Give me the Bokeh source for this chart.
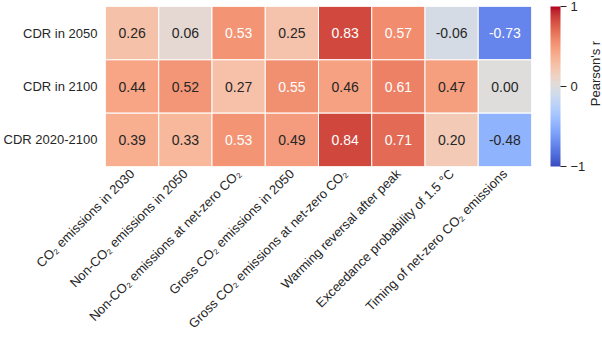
import numpy as np
from bokeh.plotting import figure
from bokeh.layouts import row
from bokeh.models import (ColumnDataSource, FactorRange, LinearColorMapper, ColorBar,
                          FixedTicker, Range1d)
from bokeh.core.properties import value
from bokeh.embed import file_html
from bokeh.resources import INLINE

rows = ["CDR in 2050", "CDR in 2100", "CDR 2020-2100"]
cols = ["CO₂ emissions in 2030", "Non-CO₂ emissions in 2050",
        "Non-CO₂ emissions at net-zero CO₂", "Gross CO₂ emissions in 2050",
        "Gross CO₂ emissions at net-zero CO₂", "Warming reversal after peak",
        "Exceedance probability of 1.5 °C", "Timing of net-zero CO₂ emissions"]
r_2050 = [0.26, 0.06, 0.53, 0.25, 0.83, 0.57, -0.06, -0.73]
r_2100 = [0.44, 0.52, 0.27, 0.55, 0.46, 0.61, 0.47, 0.00]
r_2020_2100 = [0.39, 0.33, 0.53, 0.49, 0.84, 0.71, 0.20, -0.48]
cbar_ticks = [-1, 0, 1]
cbar_labels = ["−1", "0", "1"]
cbar_title = "Pearson's r"

# coolwarm colormap (Moreland) control points
_cw = [(59,76,192),(68,90,204),(77,104,215),(87,117,225),(98,130,234),(108,142,241),
       (119,154,247),(130,165,251),(141,176,254),(152,185,255),(163,194,255),(174,201,253),
       (184,208,249),(194,213,244),(204,217,238),(213,219,230),(221,221,221),(229,216,209),
       (236,211,197),(241,204,184),(245,196,172),(247,187,159),(247,177,147),(247,166,134),
       (244,154,123),(241,141,111),(236,127,99),(229,112,88),(222,96,77),(213,80,66),
       (203,62,56),(192,40,47),(180,4,38)]
_cw = np.array(_cw, dtype=float)
_t = np.linspace(0, 1, len(_cw))
_tt = np.linspace(0, 1, 256)
_rgb = np.stack([np.interp(_tt, _t, _cw[:, k]) for k in range(3)], axis=1)
palette = ["#%02x%02x%02x" % tuple(int(round(v)) for v in c) for c in _rgb]

def cell_rgb(v):
    idx = int(np.clip((v + 1) / 2 * 255, 0, 255))
    return _rgb[idx] / 255.0

def lum(c):
    lin = np.where(c <= 0.03928, c / 12.92, ((c + 0.055) / 1.055) ** 2.4)
    return 0.2126 * lin[0] + 0.7152 * lin[1] + 0.0722 * lin[2]

xs, ys, vals, labels, tcol = [], [], [], [], []
for rname, series in zip(rows, [r_2050, r_2100, r_2020_2100]):
    for cname, v in zip(cols, series):
        xs.append(cname); ys.append(rname); vals.append(v)
        labels.append("%.2f" % v)
        tcol.append("#262626" if lum(cell_rgb(v)) > 0.418 else "#ffffff")

src = ColumnDataSource(dict(x=xs, y=ys, v=vals, label=labels, tcol=tcol))
mapper = LinearColorMapper(palette=palette, low=-1, high=1)

FONT = "Liberation Sans"
p = figure(width=588, height=339, x_range=FactorRange(*cols),
           y_range=FactorRange(*rows[::-1]), output_backend="svg",
           toolbar_location=None, min_border_left=105, min_border_right=49,
           min_border_top=6, min_border_bottom=160)
p.outline_line_color = None
p.grid.visible = False

p.rect(x="x", y="y", width=1, height=1, source=src,
       fill_color={"field": "v", "transform": mapper},
       line_color="white", line_width=1)
p.text(x="x", y="y", text="label", source=src, text_color="tcol",
       text_align="center", text_baseline="middle",
       text_font=value(FONT), text_font_size="14px")

for ax in (p.xaxis[0], p.yaxis[0]):
    ax.axis_line_color = None
    ax.major_tick_line_color = None
    ax.major_tick_out = 0
    ax.major_tick_in = 0
    ax.major_label_text_font = FONT
    ax.major_label_text_font_size = "13px"
    ax.major_label_text_color = "#262626"
p.yaxis.major_label_standoff = 8
p.xaxis.major_label_orientation = np.pi / 4
p.xaxis.major_label_standoff = 5

cb = ColorBar(color_mapper=mapper, ticker=FixedTicker(ticks=cbar_ticks),
              major_label_overrides={t: l for t, l in zip(cbar_ticks, cbar_labels)},
              width=10, padding=0, margin=0, location=(19, 0),
              major_tick_in=0, major_tick_out=6,
              major_tick_line_color="#262626", bar_line_color=None,
              border_line_color=None, label_standoff=4,
              major_label_text_font=FONT, major_label_text_font_size="13px",
              major_label_text_color="#262626")
p.add_layout(cb, "right")

# narrow strip holding the colour-bar title, read bottom-to-top
p2 = figure(width=14, height=339, x_range=Range1d(0, 14), y_range=Range1d(339, 0),
            output_backend="svg", toolbar_location=None, min_border=0)
p2.outline_line_color = None
p2.grid.visible = False
p2.axis.visible = False
p2.text(x=[7], y=[142], text=[cbar_title], angle=np.pi / 2,
        text_align="center", text_baseline="middle", text_color="#262626",
        text_font=value(FONT), text_font_size="13px")

layout = row(p, p2)
open("out.html", "w").write(file_html(layout, INLINE))
